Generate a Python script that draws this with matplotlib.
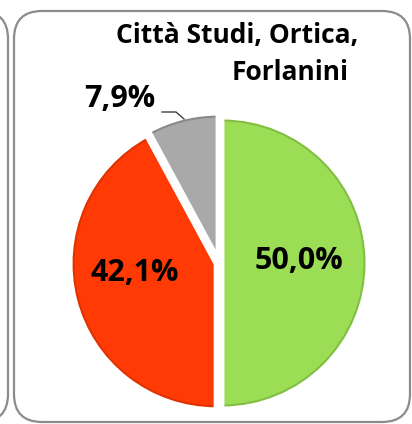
import matplotlib.pyplot as plt
from matplotlib.patches import FancyBboxPatch, Wedge

# dati
labels = ['50,0%', '42,1%', '7,9%']
values = [50.0, 42.1, 7.9]
colors = ['#9BDD55', '#FF3A05', '#A9A9A9']
shades = ['#5E8F2E', '#B02800', '#5A5A5A']
title1 = 'Città Studi, Ortica,'
title2 = 'Forlanini'

plt.rcParams['font.family'] = ['Open Sans', 'DejaVu Sans']

fig = plt.figure(figsize=(4.12, 4.24), dpi=100)
ax = fig.add_axes([0, 0, 1, 1])
ax.set_xlim(0, 412)
ax.set_ylim(0, 424)
ax.set_aspect('equal')
ax.axis('off')

# cornici
box = FancyBboxPatch((14, 2), 396, 411, boxstyle='round,pad=0,rounding_size=28',
                     fc='none', ec='#8C8C8C', lw=1.6)
ax.add_patch(box)
box2 = FancyBboxPatch((-300, 2), 308, 411, boxstyle='round,pad=0,rounding_size=28',
                      fc='none', ec='#8C8C8C', lw=1.6)
ax.add_patch(box2)

wedges, _ = ax.pie(values, colors=colors, startangle=90, counterclock=False,
                   center=(219, 161), radius=146, explode=[3, 3, 4],
                   wedgeprops=dict(edgecolor='white', linewidth=1))
# bordo scuro leggero (effetto rilievo) + bordo bianco sopra
for w, s in zip(wedges, shades):
    w.set_clip_on(False)
    ax.add_patch(Wedge(w.center, w.r - 3.5, w.theta1, w.theta2, fc='none',
                       ec=s, lw=1.5, alpha=0.4))
    ax.add_patch(Wedge(w.center, w.r, w.theta1, w.theta2, fc='none',
                       ec='white', lw=3.5))
ax.set_xlim(0, 412)
ax.set_ylim(0, 424)

ax.text(299, 424 - 261, labels[0], ha='center', va='center', fontsize=22, fontweight='bold')
ax.text(135, 424 - 273, labels[1], ha='center', va='center', fontsize=22, fontweight='bold')
ax.text(120, 424 - 99, labels[2], ha='center', va='center', fontsize=22, fontweight='bold')
ax.plot([162, 176, 184], [424 - 112, 424 - 112, 424 - 119], color='#404040', lw=1)

ax.text(358, 424 - 36, title1, ha='right', va='center', fontsize=19, fontweight='bold')
ax.text(349, 424 - 73, title2, ha='right', va='center', fontsize=19, fontweight='bold')

fig.savefig('out.png', dpi=100)
